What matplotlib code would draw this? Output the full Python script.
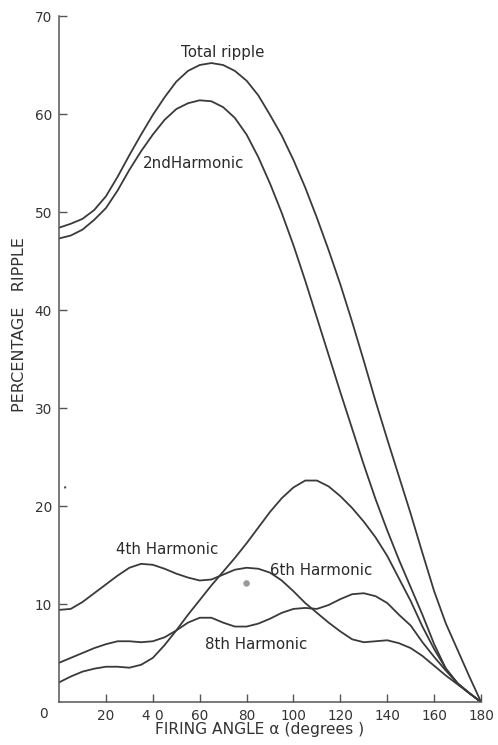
import matplotlib
matplotlib.use("Agg")
import matplotlib.pyplot as plt
from matplotlib.transforms import ScaledTranslation

# ---- data ----
angle = [0, 5, 10, 15, 20, 25, 30, 35, 40, 45, 50, 55, 60, 65, 70, 75, 80, 85, 90,
         95, 100, 105, 110, 115, 120, 125, 130, 135, 140, 145, 150, 155, 160, 165,
         170, 175, 180]

total_ripple = [48.4, 48.8, 49.3, 50.2, 51.6, 53.6, 55.8, 57.9, 59.9, 61.7, 63.3,
                64.4, 65.0, 65.2, 65.0, 64.4, 63.4, 61.9, 59.9, 57.8, 55.3, 52.5,
                49.4, 46.1, 42.6, 38.8, 34.8, 30.7, 26.8, 23.0, 19.2, 15.2, 11.3,
                8.0, 5.3, 2.6, 0.0]

harmonic_2 = [47.3, 47.6, 48.2, 49.2, 50.4, 52.2, 54.3, 56.2, 57.9, 59.4, 60.5,
              61.1, 61.4, 61.3, 60.7, 59.6, 57.9, 55.6, 52.9, 49.9, 46.6, 43.0,
              39.2, 35.4, 31.6, 27.9, 24.2, 20.7, 17.5, 14.5, 11.7, 8.9, 5.9,
              3.4, 1.9, 0.9, 0.0]

harmonic_4 = [9.4, 9.5, 10.2, 11.1, 12.0, 12.9, 13.7, 14.1, 14.0, 13.6, 13.1,
              12.7, 12.4, 12.5, 13.0, 13.5, 13.7, 13.6, 13.2, 12.4, 11.3, 10.1,
              9.1, 8.1, 7.2, 6.4, 6.1, 6.2, 6.3, 6.0, 5.5, 4.7, 3.7, 2.7,
              1.8, 0.9, 0.0]

harmonic_6 = [2.0, 2.6, 3.1, 3.4, 3.6, 3.6, 3.5, 3.8, 4.5, 5.8, 7.3, 8.9, 10.4,
              11.9, 13.3, 14.7, 16.2, 17.8, 19.4, 20.8, 21.9, 22.6, 22.6, 22.0,
              21.0, 19.8, 18.4, 16.8, 14.9, 12.6, 10.3, 7.7, 5.4, 3.4, 1.9,
              0.9, 0.0]

harmonic_8 = [4.0, 4.5, 5.0, 5.5, 5.9, 6.2, 6.2, 6.1, 6.2, 6.6, 7.3, 8.1, 8.6,
              8.6, 8.1, 7.7, 7.7, 8.0, 8.5, 9.1, 9.5, 9.6, 9.5, 9.9, 10.5,
              11.0, 11.1, 10.8, 10.1, 8.9, 7.8, 6.1, 4.6, 3.2, 1.9, 0.9, 0.0]

x_ticks = [20, 40, 60, 80, 100, 120, 140, 160, 180]
x_tick_labels = ["20", "4 0", "60", "80", "100", "120", "140", "160", "180"]
y_ticks = [10, 20, 30, 40, 50, 60, 70]
y_tick_labels = ["10", "20", "30", "40", "50", "60", "70"]

labels = ["Total ripple", "2ndHarmonic", "4th Harmonic", "6th Harmonic", "8th Harmonic"]
label_x = [70, 57.5, 46, 112, 84]
label_y = [66.3, 55.0, 15.6, 13.4, 5.9]

speck_x = [80.0, 2.6]
speck_y = [12.1, 21.9]
speck_size = [22, 3]

# ---- figure ----
fig = plt.figure(figsize=(4.98, 7.45), dpi=100)
ax = fig.add_axes([0.1185, 0.0577, 0.8475, 0.9208])

line_kw = dict(color="#3a3a3a", lw=1.3, solid_joinstyle="round", solid_capstyle="round")
for series in (total_ripple, harmonic_2, harmonic_4, harmonic_6, harmonic_8):
    ax.plot(angle, series, **line_kw)

ax.scatter(speck_x, speck_y, s=speck_size, color=["#9a9a9a", "#555555"], edgecolors="none", zorder=3)

for t, lx, ly in zip(labels, label_x, label_y):
    ax.text(lx, ly, t, ha="center", va="center", fontsize=10.8, color="#2a2a2a")

ax.set_xlim(0, 180)
ax.set_ylim(0, 70)
ax.set_xticks(x_ticks)
ax.set_xticklabels(x_tick_labels)
ax.set_yticks(y_ticks)
ax.set_yticklabels(y_tick_labels)

for s in ("top", "right"):
    ax.spines[s].set_visible(False)
for s in ("left", "bottom"):
    ax.spines[s].set_color("#555555")
    ax.spines[s].set_linewidth(1.1)

ax.tick_params(axis="both", direction="in", length=6, width=1, color="#555555",
               labelsize=9.8, labelcolor="#333333")
ax.tick_params(axis="x", pad=5)
ax.tick_params(axis="y", pad=5)

ax.text(0, 0, "0", fontsize=9.8, color="#333333", ha="center", va="center",
        transform=ax.transData + ScaledTranslation(-0.16, -0.115, fig.dpi_scale_trans))

ax.set_xlabel("FIRING ANGLE \u03b1 (degrees )", fontsize=11.2, color="#333333", va="top")
ax.xaxis.set_label_coords(0.476, -0.0285)
ax.set_ylabel("PERCENTAGE   RIPPLE", fontsize=11.5, color="#333333")
ax.yaxis.set_label_coords(-0.075, 0.55)

fig.savefig("out.png", dpi=100, facecolor="white")
